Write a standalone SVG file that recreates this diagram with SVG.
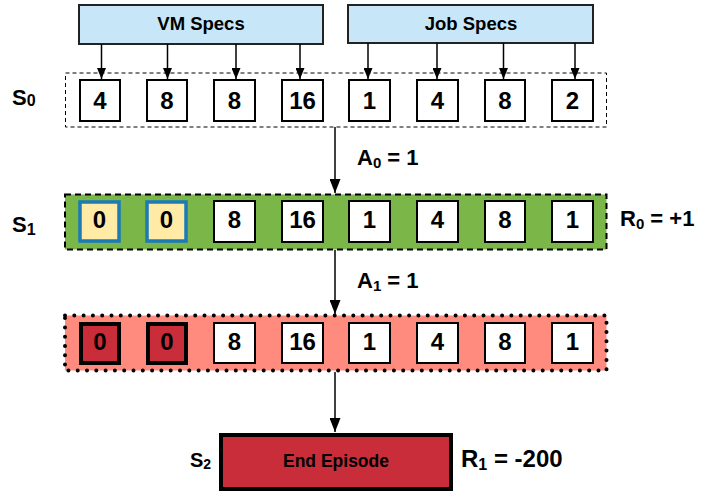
<svg xmlns="http://www.w3.org/2000/svg" width="703" height="495" viewBox="0 0 703 495">
  <style>
    text { font-family: "Liberation Sans", Arial, sans-serif; font-weight: bold; fill: #000; }
    .num { font-size: 24px; text-anchor: middle; dominant-baseline: central; }
    .spec { fill: #c7e6f7; stroke: #222; stroke-width: 2; }
    .cell { fill: #fff; stroke: #000; stroke-width: 2; }
    .cell-new { fill: #ffeaa6; stroke: #1b7ab7; stroke-width: 3.5; }
    .cell-bad { fill: #c92d39; stroke: #000; stroke-width: 4; }
    .wire { stroke: #000; stroke-width: 1.5; fill: none; }
    .lbl { font-size: 22px; }
  </style>
  <defs>
    <marker id="arrow" viewBox="0 0 11 9" refX="11" refY="4.5" markerWidth="11" markerHeight="9" orient="auto" markerUnits="userSpaceOnUse">
      <path d="M0,0 L11,4.5 L0,9 z" fill="#000"/>
    </marker>
    <marker id="arrowL" viewBox="0 0 14 11" refX="14" refY="5.5" markerWidth="14" markerHeight="11" orient="auto" markerUnits="userSpaceOnUse">
      <path d="M0,0 L14,5.5 L0,11 z" fill="#000"/>
    </marker>
  </defs>

  <!-- spec sources -->
  <g id="vm-specs">
    <rect class="spec" x="79" y="5" width="244" height="39"/>
    <text x="201" y="23.5" font-size="18.5" text-anchor="middle" dominant-baseline="central">VM Specs</text>
  </g>
  <g id="job-specs">
    <rect class="spec" x="348" y="5" width="245" height="38"/>
    <text x="471" y="23" font-size="18.5" text-anchor="middle" dominant-baseline="central">Job Specs</text>
  </g>

  <!-- state S0 -->
  <g id="state-s0">
    <rect x="65.5" y="73" width="541" height="54" fill="none" stroke="#000" stroke-width="1" stroke-dasharray="4 3"/>
    <text x="12" y="105" font-size="22">S<tspan font-size="16" dy="1">0</tspan></text>
    <rect class="cell" x="80" y="80" width="40" height="41"/><text class="num" x="100" y="100">4</text>
    <rect class="cell" x="147" y="80" width="40" height="41"/><text class="num" x="167" y="100">8</text>
    <rect class="cell" x="214" y="80" width="41" height="41"/><text class="num" x="234.5" y="100">8</text>
    <rect class="cell" x="282" y="80" width="41" height="41"/><text class="num" x="302.5" y="100">16</text>
    <rect class="cell" x="349" y="80" width="41" height="41"/><text class="num" x="369.5" y="100">1</text>
    <rect class="cell" x="417" y="80" width="41" height="41"/><text class="num" x="437.5" y="100">4</text>
    <rect class="cell" x="485" y="80" width="40" height="41"/><text class="num" x="505" y="100">8</text>
    <rect class="cell" x="552" y="80" width="41" height="41"/><text class="num" x="572.5" y="100">2</text>
  </g>

  <!-- state S1 -->
  <g id="state-s1">
    <rect x="65" y="194.5" width="541.5" height="55" fill="#7ab648" stroke="#000" stroke-width="2" stroke-dasharray="6 4"/>
    <text x="12" y="232" font-size="22">S<tspan font-size="16" dy="3">1</tspan></text>
    <rect class="cell-new" x="80" y="202" width="39" height="39"/><text class="num" x="99.5" y="219.5">0</text>
    <rect class="cell-new" x="147" y="202" width="39" height="39"/><text class="num" x="166.5" y="219.5">0</text>
    <rect class="cell" x="214" y="201" width="41" height="41"/><text class="num" x="234.5" y="219.5">8</text>
    <rect class="cell" x="282" y="201" width="41" height="41"/><text class="num" x="302.5" y="219.5">16</text>
    <rect class="cell" x="349" y="201" width="41" height="41"/><text class="num" x="369.5" y="219.5">1</text>
    <rect class="cell" x="417" y="201" width="41" height="41"/><text class="num" x="437.5" y="219.5">4</text>
    <rect class="cell" x="485" y="201" width="40" height="41"/><text class="num" x="505" y="219.5">8</text>
    <rect class="cell" x="552" y="201" width="41" height="41"/><text class="num" x="572.5" y="219.5">1</text>
    <text class="lbl" x="620" y="226">R<tspan font-size="15" dy="3">0</tspan><tspan dy="-3"> = +1</tspan></text>
  </g>

  <!-- failing state -->
  <g id="state-fail">
    <rect x="65" y="315.5" width="541.5" height="55" fill="#ff8b7e" stroke="#000" stroke-width="4" stroke-linecap="round" stroke-dasharray="0 9.3"/>
    <rect class="cell-bad" x="81" y="324" width="38" height="39"/><text class="num" x="100" y="341">0</text>
    <rect class="cell-bad" x="148" y="324" width="38" height="39"/><text class="num" x="167" y="341">0</text>
    <rect class="cell" x="214" y="323" width="41" height="40"/><text class="num" x="234.5" y="341">8</text>
    <rect class="cell" x="282" y="323" width="41" height="40"/><text class="num" x="302.5" y="341">16</text>
    <rect class="cell" x="349" y="323" width="41" height="40"/><text class="num" x="369.5" y="341">1</text>
    <rect class="cell" x="417" y="323" width="41" height="40"/><text class="num" x="437.5" y="341">4</text>
    <rect class="cell" x="485" y="323" width="40" height="40"/><text class="num" x="505" y="341">8</text>
    <rect class="cell" x="552" y="323" width="41" height="40"/><text class="num" x="572.5" y="341">1</text>
  </g>

  <!-- terminal state S2 -->
  <g id="end-episode">
    <rect x="221" y="435" width="230" height="54" fill="#c92d39" stroke="#000" stroke-width="4"/>
    <text x="336" y="461" font-size="17.5" text-anchor="middle" dominant-baseline="central">End Episode</text>
    <text x="190" y="467" font-size="20">S<tspan font-size="14" dy="2">2</tspan></text>
    <text x="461" y="467" font-size="24">R<tspan font-size="16" dy="3">1</tspan><tspan dy="-3"> = -200</tspan></text>
  </g>

  <!-- connectors -->
  <g id="connectors">
    <line class="wire" x1="101.5" y1="44" x2="101.5" y2="79" marker-end="url(#arrow)"/>
    <line class="wire" x1="167.5" y1="44" x2="167.5" y2="79" marker-end="url(#arrow)"/>
    <line class="wire" x1="236" y1="44" x2="236" y2="79" marker-end="url(#arrow)"/>
    <line class="wire" x1="300" y1="44" x2="300" y2="79" marker-end="url(#arrow)"/>
    <line class="wire" x1="368" y1="43" x2="368" y2="79" marker-end="url(#arrow)"/>
    <line class="wire" x1="437" y1="43" x2="437" y2="79" marker-end="url(#arrow)"/>
    <line class="wire" x1="503.5" y1="43" x2="503.5" y2="79" marker-end="url(#arrow)"/>
    <line class="wire" x1="575" y1="43" x2="575" y2="79" marker-end="url(#arrow)"/>
    <line class="wire" x1="335" y1="127" x2="335" y2="193" stroke-width="2" marker-end="url(#arrowL)"/>
    <line class="wire" x1="335" y1="250" x2="335" y2="314" stroke-width="2" marker-end="url(#arrowL)"/>
    <line class="wire" x1="335" y1="372" x2="335" y2="432" stroke-width="2" marker-end="url(#arrowL)"/>
  </g>

  <!-- action labels -->
  <text class="lbl" x="357" y="165">A<tspan font-size="15" dy="3">0</tspan><tspan dy="-3"> = 1</tspan></text>
  <text class="lbl" x="357" y="288">A<tspan font-size="15" dy="3">1</tspan><tspan dy="-3"> = 1</tspan></text>
</svg>
